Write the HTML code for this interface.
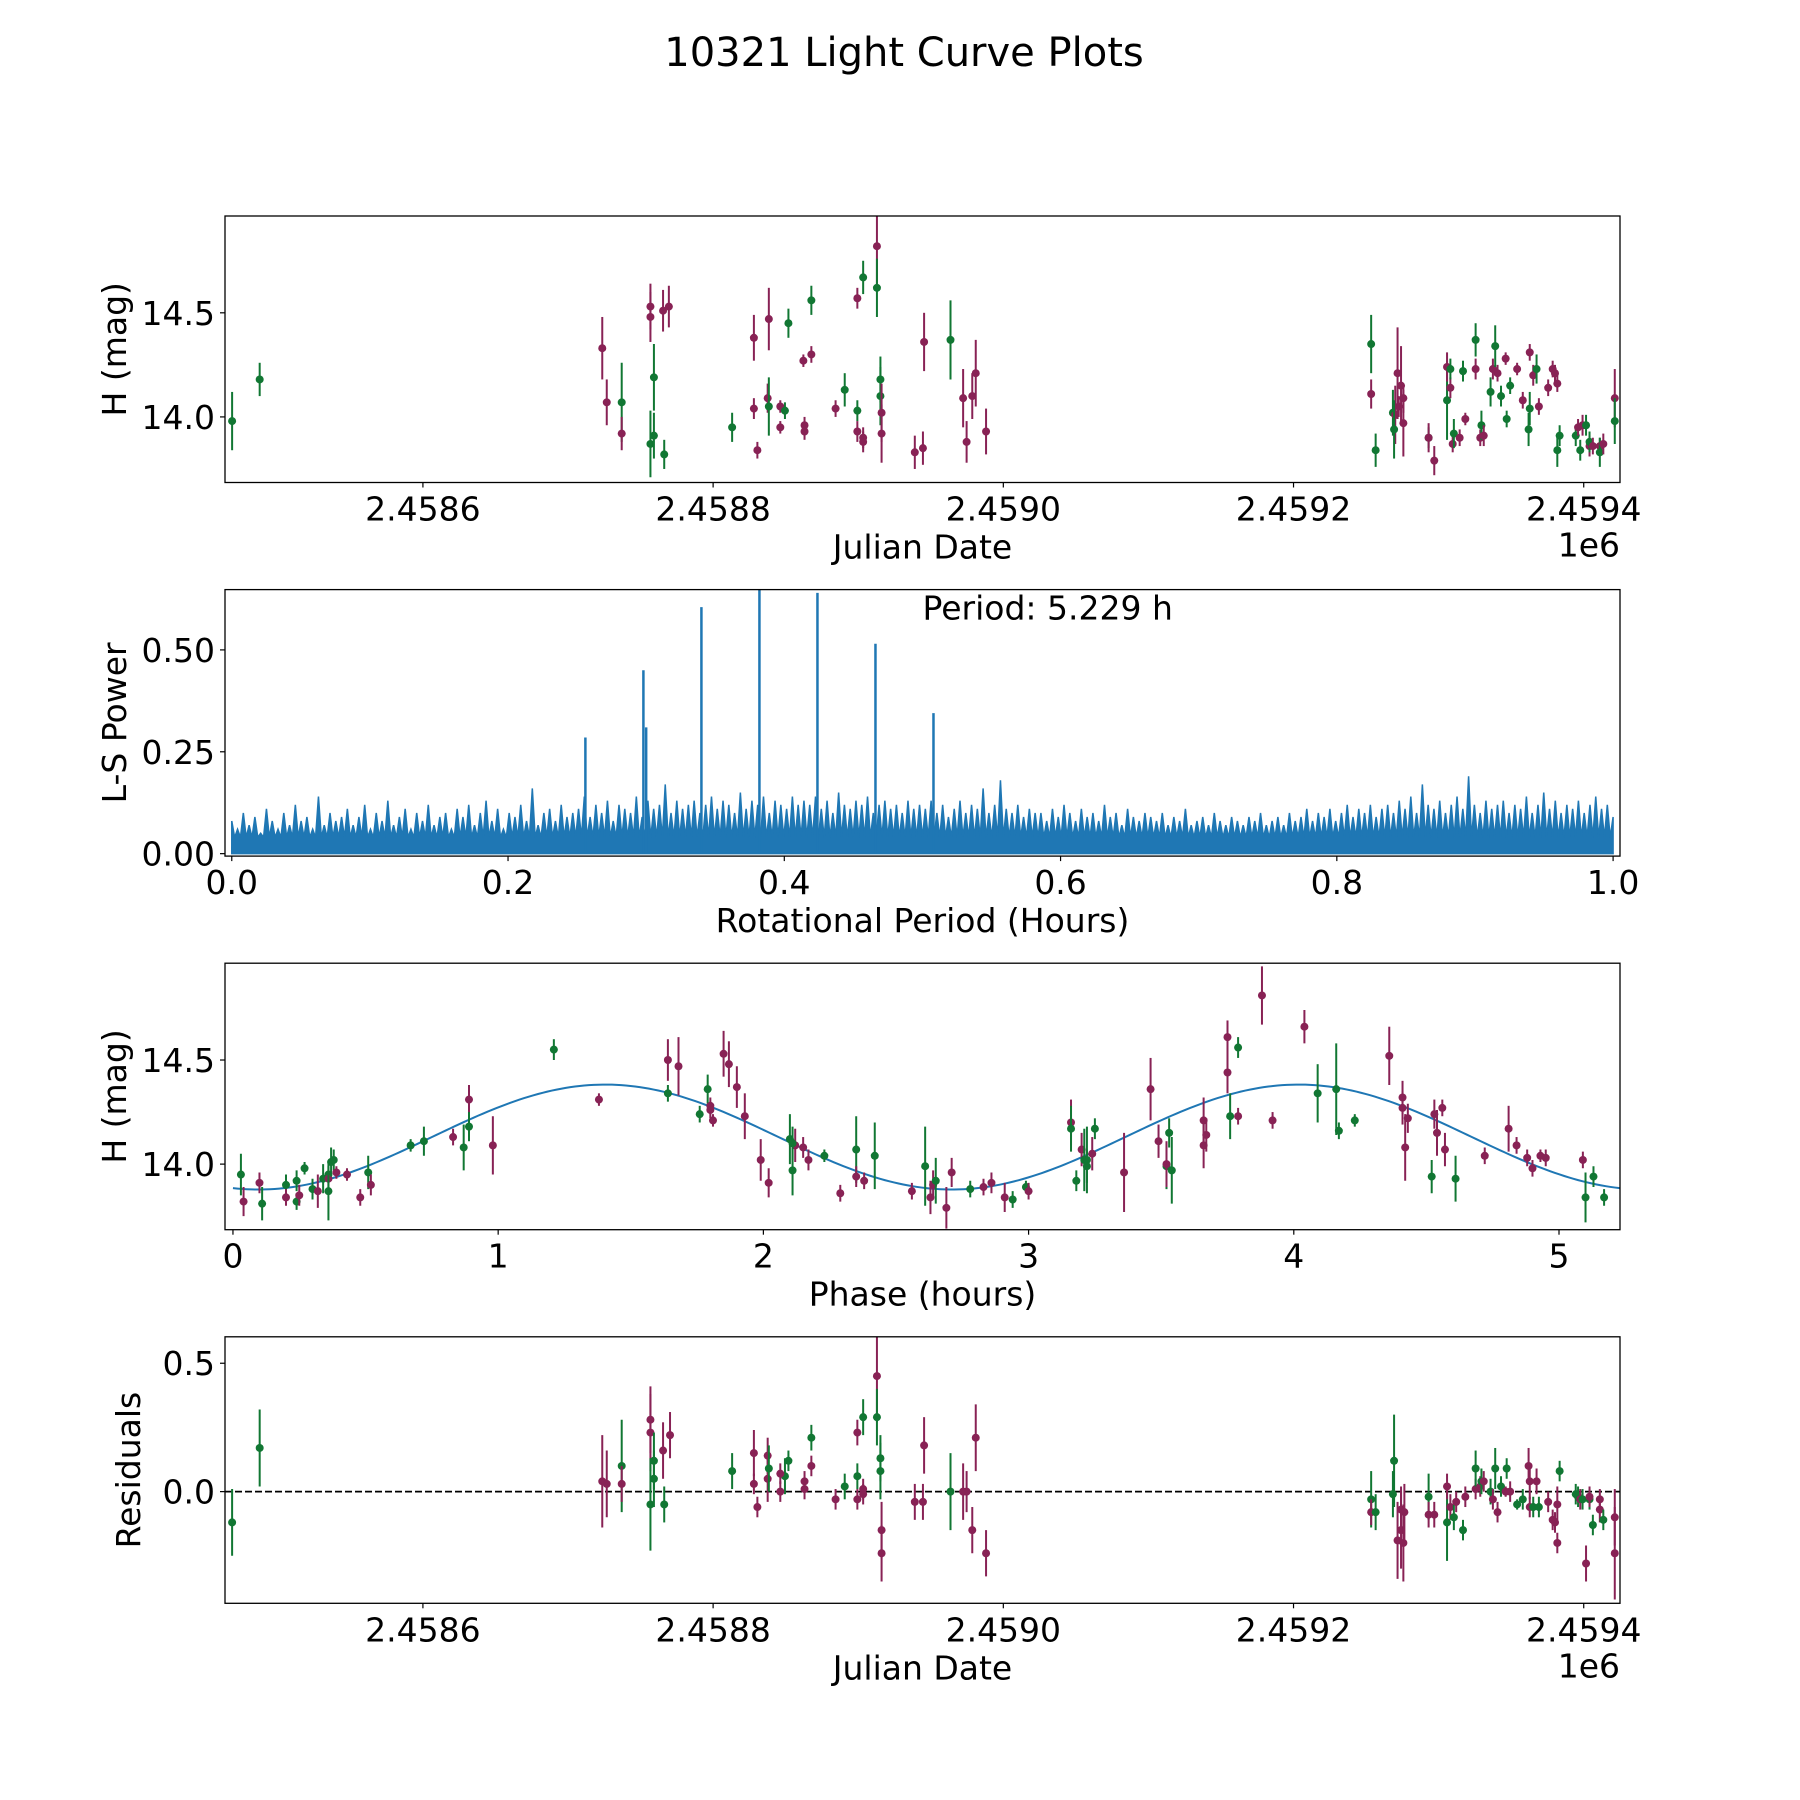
<!DOCTYPE html>
<html><head><meta charset="utf-8">
<style>
html,body{margin:0;padding:0;background:#fff;}
svg{display:block;font-family:"DejaVu Sans","Liberation Sans",sans-serif;}
</style></head>
<body>
<svg id="fig" width="1800" height="1800" viewBox="0 0 1800 1800" xmlns="http://www.w3.org/2000/svg">
<rect width="1800" height="1800" fill="#fff"/>
<text x="904" y="66" font-size="40" text-anchor="middle">10321 Light Curve Plots</text>
</svg>
<script>
// ---------- DATA ----------
// Panel 1: Julian date offsets (days from 2458600), magnitude, error, filter
const jdDays = [-131.5,-112.5,123.6,126.7,137.0,137.0,156.8,156.8,156.8,159.2,159.2,166.3,165.5,169.5,213.1,228.1,228.1,230.5,237.6,238.4,238.4,246.3,246.3,249.5,251.9,262.2,263.0,263.0,267.7,267.7,284.4,290.7,299.4,299.4,299.4,303.4,303.4,303.4,312.9,312.9,315.3,315.3,316.1,316.1,339.0,344.6,345.4,363.6,372.3,374.7,378.6,381.0,388.1,
653.5,653.5,656.6,668.5,670.1,671.7,674.1,672.5,669.3,675.7,675.7,693.1,693.1,697.0,705.8,705.8,708.1,708.1,709.7,710.5,716.8,714.5,718.4,725.5,725.5,728.7,729.5,731.1,735.8,737.4,739.0,740.6,743.0,746.2,746.9,749.3,754.1,758.0,762.0,762.8,762.8,765.2,767.5,769.1,775.5,778.6,780.2,781.8,781.8,783.4,794.5,796.1,797.6,799.2,801.6,804.0,804.0,806.3,811.1,811.1,813.5,821.4,821.4];
const jdMag = [13.98,14.18,14.33,14.07,14.07,13.92,14.53,14.48,13.87,14.19,13.91,13.82,14.51,14.53,13.95,14.38,14.04,13.84,14.09,14.47,14.05,14.05,13.95,14.03,14.45,14.27,13.96,13.93,14.30,14.56,14.04,14.13,14.57,14.03,13.93,14.67,13.90,13.88,14.82,14.62,14.10,14.18,14.02,13.92,13.83,13.85,14.36,14.37,14.09,13.88,14.10,14.21,13.93,
14.35,14.11,13.84,14.02,14.01,14.21,14.15,14.05,13.94,13.97,14.09,13.90,13.90,13.79,14.08,14.24,14.14,14.23,13.87,13.92,14.22,13.90,13.99,14.23,14.37,13.90,13.96,13.91,14.12,14.23,14.34,14.21,14.10,14.28,13.99,14.15,14.23,14.08,13.94,14.04,14.31,14.20,14.23,14.05,14.14,14.23,14.21,14.16,13.84,13.91,13.91,13.95,13.84,13.96,13.96,13.86,13.88,13.86,13.86,13.83,13.87,14.09,13.98];
const jdErr = [0.14,0.08,0.15,0.11,0.19,0.08,0.11,0.12,0.16,0.16,0.11,0.07,0.10,0.10,0.07,0.11,0.05,0.04,0.07,0.15,0.14,0.03,0.03,0.04,0.07,0.03,0.04,0.04,0.04,0.07,0.04,0.08,0.05,0.05,0.05,0.08,0.05,0.05,0.22,0.14,0.14,0.11,0.14,0.14,0.08,0.08,0.14,0.19,0.14,0.10,0.11,0.16,0.11,
0.14,0.07,0.08,0.11,0.14,0.22,0.19,0.05,0.14,0.16,0.07,0.05,0.07,0.07,0.19,0.07,0.05,0.05,0.04,0.07,0.05,0.04,0.03,0.05,0.08,0.04,0.07,0.05,0.07,0.05,0.10,0.04,0.05,0.03,0.04,0.04,0.03,0.04,0.08,0.08,0.04,0.05,0.07,0.04,0.04,0.04,0.04,0.04,0.08,0.05,0.05,0.04,0.05,0.05,0.05,0.05,0.05,0.04,0.04,0.07,0.05,0.14,0.11];
const jdBand = "GGPPGPPPGGGGPPGPPPPPGPPGGPPPPGPGPGPGPPPGGGPPPPPGPPPPPGPGGPPPPGPPGPPGPPGPGGPPPGPGPGPGPGPGGPPGGPPGPPPPPGGGPGPGPGPPGPPG";
// Panel 4: residuals (same epochs)
const resDays = [-131.5,-112.5,123.6,126.7,137.0,137.0,156.8,156.8,156.8,159.2,159.2,166.3,165.5,170.3,213.1,228.1,230.5,228.1,237.6,237.6,238.4,249.5,246.3,246.3,251.9,263.0,263.0,267.7,267.7,284.4,290.7,299.4,299.4,299.4,303.4,303.4,303.4,312.9,312.9,315.3,315.3,316.1,316.1,339.0,344.6,345.4,363.6,372.3,374.7,378.6,381.0,388.1,
653.5,653.5,656.6,668.5,669.3,671.7,674.1,675.7,674.1,676.4,693.1,693.1,697.0,705.8,705.8,708.1,710.5,712.1,716.8,718.4,725.5,725.5,728.7,729.5,731.1,735.8,737.4,739.0,740.6,743.0,746.2,746.9,749.3,754.1,758.0,762.0,762.8,762.8,765.2,767.5,769.1,775.5,778.6,780.2,781.8,781.8,783.4,794.5,796.1,797.6,799.2,801.6,804.0,804.0,806.3,811.1,811.1,813.5,821.4,821.4];
const resVal = [-0.12,0.17,0.04,0.03,0.10,0.03,0.28,0.23,-0.05,0.12,0.05,-0.05,0.16,0.22,0.08,0.15,-0.06,0.03,0.14,0.05,0.09,0.06,0.00,0.07,0.12,0.04,0.01,0.10,0.21,-0.03,0.02,0.23,0.06,-0.03,0.29,-0.01,0.01,0.45,0.29,0.08,0.13,-0.15,-0.24,-0.04,-0.04,0.18,0.00,0.00,0.00,-0.15,0.21,-0.24,
-0.03,-0.08,-0.08,-0.01,0.12,-0.19,-0.15,-0.20,-0.07,-0.08,-0.02,-0.09,-0.09,-0.12,0.02,-0.06,-0.10,-0.04,-0.15,-0.02,0.01,0.09,0.02,0.04,0.04,0.00,-0.03,0.09,-0.08,0.02,0.00,0.09,0.00,-0.05,-0.03,0.10,0.04,-0.06,-0.06,0.04,-0.06,-0.04,-0.11,-0.12,-0.20,-0.05,0.08,-0.01,-0.02,-0.03,-0.03,-0.28,-0.03,-0.02,-0.13,-0.03,-0.07,-0.11,-0.10,-0.24];
const resErr = [0.13,0.15,0.18,0.13,0.18,0.07,0.13,0.15,0.18,0.11,0.11,0.07,0.11,0.09,0.07,0.09,0.04,0.04,0.07,0.09,0.09,0.07,0.04,0.04,0.04,0.04,0.04,0.04,0.05,0.04,0.05,0.05,0.05,0.04,0.07,0.04,0.04,0.18,0.11,0.11,0.09,0.11,0.11,0.07,0.07,0.11,0.15,0.11,0.08,0.09,0.13,0.09,
0.11,0.05,0.07,0.09,0.18,0.15,0.15,0.15,0.09,0.11,0.09,0.05,0.05,0.15,0.05,0.05,0.05,0.04,0.04,0.04,0.04,0.07,0.04,0.05,0.04,0.05,0.04,0.08,0.04,0.04,0.02,0.04,0.04,0.02,0.04,0.07,0.07,0.04,0.04,0.05,0.04,0.04,0.04,0.04,0.04,0.07,0.04,0.04,0.04,0.04,0.04,0.07,0.04,0.04,0.04,0.04,0.05,0.04,0.11,0.18];
const resBand = "GGPPGPPPGGGGPPGPPPPPGGPPGPPPGPGPGPGPPPGGGPPPPPGPPPPPGPGGGPPPPPGPPGPPGPGPPGPGPGPGPGPGPGGPPPGPGPPPPPGGGPGPGPGPPGPPG";
// Panel 3: phase-folded
const phHours = [0.03,0.04,0.10,0.11,0.20,0.20,0.24,0.24,0.25,0.27,0.30,0.32,0.34,0.36,0.36,0.36,0.37,0.38,0.39,0.43,0.48,0.51,0.52,0.67,0.72,0.83,0.87,0.89,0.89,0.98,1.21,1.38,1.64,1.68,1.64,1.76,1.79,1.80,1.81,1.80,1.85,1.87,1.90,1.93,1.99,2.02,2.10,2.11,2.12,2.11,2.15,2.17,2.23,2.29,2.35,2.35,2.38,2.42,2.56,2.61,2.63,2.64,2.65,2.69,2.71,2.78,2.83,2.86,2.91,2.94,2.99,3.00,3.16,3.16,3.18,3.20,3.21,3.22,3.22,3.24,3.25,3.36,3.46,3.49,3.52,3.52,3.54,3.53,3.66,3.66,3.67,3.75,3.75,3.76,3.79,3.79,3.88,3.92,4.04,4.09,4.16,4.17,4.23,4.36,4.41,4.41,4.43,4.42,4.52,4.53,4.54,4.56,4.57,4.61,4.72,4.81,4.84,4.88,4.90,4.93,4.95,5.09,5.10,5.13,5.17];
const phMag = [13.95,13.82,13.91,13.81,13.90,13.84,13.92,13.82,13.85,13.98,13.88,13.87,13.93,13.95,13.93,13.87,14.01,14.02,13.96,13.95,13.84,13.96,13.90,14.09,14.11,14.13,14.08,14.31,14.18,14.09,14.55,14.31,14.50,14.47,14.34,14.24,14.36,14.28,14.21,14.26,14.53,14.48,14.37,14.23,14.02,13.91,14.12,13.97,14.09,14.10,14.08,14.02,14.04,13.86,14.07,13.94,13.92,14.04,13.87,13.99,13.84,13.90,13.92,13.79,13.96,13.88,13.89,13.91,13.84,13.83,13.89,13.87,14.20,14.17,13.92,14.07,14.02,14.02,13.99,14.05,14.17,13.96,14.36,14.11,13.99,14.00,13.97,14.15,14.21,14.09,14.14,14.61,14.44,14.23,14.56,14.23,14.81,14.21,14.66,14.34,14.36,14.16,14.21,14.52,14.32,14.27,14.22,14.08,13.94,14.24,14.15,14.27,14.07,13.93,14.04,14.17,14.09,14.03,13.98,14.04,14.03,14.02,13.84,13.94,13.84];
const phErr = [0.10,0.07,0.05,0.08,0.05,0.04,0.05,0.04,0.05,0.03,0.05,0.08,0.07,0.04,0.04,0.14,0.07,0.05,0.03,0.03,0.04,0.08,0.05,0.03,0.07,0.04,0.11,0.07,0.07,0.14,0.05,0.03,0.10,0.14,0.04,0.04,0.07,0.04,0.03,0.04,0.11,0.11,0.10,0.11,0.10,0.07,0.12,0.12,0.08,0.08,0.05,0.05,0.03,0.04,0.16,0.05,0.04,0.16,0.04,0.19,0.08,0.07,0.11,0.10,0.07,0.04,0.04,0.05,0.07,0.04,0.03,0.04,0.11,0.11,0.05,0.08,0.15,0.16,0.08,0.08,0.05,0.19,0.15,0.08,0.11,0.11,0.16,0.07,0.11,0.11,0.08,0.08,0.10,0.11,0.05,0.04,0.14,0.04,0.08,0.14,0.22,0.04,0.03,0.14,0.08,0.08,0.07,0.16,0.08,0.07,0.11,0.04,0.08,0.11,0.04,0.11,0.04,0.04,0.04,0.03,0.04,0.04,0.12,0.05,0.04];
const phBand = "GPPGGPGGPGGPGGPGGGPPPGPGGPGPGPGPPPGGGPPPPPPPPPGGPGPPGPGPPGPGPPGPPGPPPGGPPGGPGGGPGPPPGPGGPPPPPGGPPPPGGGGPPPPPGPPPPGPPPPPPPPGGGPGPGPGP";
// Sinusoidal fit parameters: [mean mag, amplitude, phase offset (h), half-period (h)]
const fitParams = [14.13, 0.252, 0.75, 2.6145];
const fitRange = [0, 5.229];
// Panel 2: Lomb-Scargle periodogram
const lsNoise = [
.08,.06,.10,.07,.09,.05,.11,.08,.06,.10,.07,.12,.08,.09,.06,.14,.07,.10,.08,.09,
.11,.07,.09,.12,.06,.10,.08,.13,.07,.09,.11,.06,.10,.08,.12,.07,.09,.10,.06,.11,
.09,.12,.07,.10,.13,.08,.11,.06,.10,.09,.12,.08,.16,.07,.10,.11,.08,.12,.09,.10,
.11,.14,.09,.12,.10,.13,.08,.12,.11,.10,.14,.09,.13,.11,.12,.17,.10,.13,.11,.12,
.13,.10,.12,.14,.11,.13,.12,.10,.15,.11,.13,.12,.14,.10,.13,.12,.11,.14,.12,.13,
.12,.14,.11,.13,.10,.15,.12,.11,.13,.12,.14,.10,.12,.13,.11,.12,.10,.13,.11,.12,
.11,.13,.10,.12,.09,.11,.13,.10,.12,.11,.16,.10,.12,.18,.11,.10,.12,.09,.11,.10,
.10,.08,.11,.09,.12,.10,.08,.11,.09,.10,.08,.12,.09,.10,.07,.11,.09,.08,.10,.09,
.08,.10,.07,.09,.08,.11,.07,.08,.09,.07,.10,.08,.07,.09,.08,.07,.09,.08,.10,.07,
.08,.09,.07,.10,.08,.09,.11,.08,.10,.09,.11,.08,.10,.12,.09,.11,.10,.12,.09,.11,
.12,.10,.13,.11,.14,.10,.17,.12,.11,.13,.10,.12,.14,.11,.19,.12,.10,.13,.11,.12,
.13,.10,.12,.11,.14,.10,.12,.15,.11,.13,.10,.12,.11,.13,.10,.12,.14,.11,.12,.09];
const lsTrough = [0.04];
const lsPeakX = [0.256,0.298,0.300,0.340,0.382,0.424,0.466,0.508];
const lsPeakY = [0.285,0.45,0.31,0.605,0.70,0.64,0.515,0.345];
const periodHours = ["5.229"];
const jdTickVals = [0,200,400,600,800];
const jdTickLabels = ["2.4586","2.4588","2.4590","2.4592","2.4594"];
const magTicks = [14.0,14.5];
const magTickLabels = ["14.0","14.5"];
const lsXTicks = [0,0.2,0.4,0.6,0.8,1.0];
const lsXTickLabels = ["0.0","0.2","0.4","0.6","0.8","1.0"];
const lsYTicks = [0,0.25,0.5];
const lsYTickLabels = ["0.00","0.25","0.50"];
const phTicks = [0,1,2,3,4,5];
const phTickLabels = ["0","1","2","3","4","5"];
const resTicks = [0,0.5];
const resTickLabels = ["0.0","0.5"];

// ---------- DRAWING ----------
const NS = "http://www.w3.org/2000/svg";
const fig = document.getElementById('fig');
const GREEN = "#117733", PURPLE = "#882255", BLUE = "#1f77b4";
const L = 225, R = 1620, H = 266.5;
const tops = [216, 589.6, 963.2, 1336.8];
function mk(tag, attrs, parent){
  const e = document.createElementNS(NS, tag);
  for (const k in attrs) e.setAttribute(k, attrs[k]);
  (parent||fig).appendChild(e);
  return e;
}
function scale(d0,d1,p0,p1){ return v => p0 + (v-d0)*(p1-p0)/(d1-d0); }

function axes(idx, xlim, ylim, name){
  const top = tops[idx], bot = top + H;
  const g = mk('g', {});
  
  
  const clipId = 'clip' + idx;
  const cp = mk('clipPath', {id: clipId}, g);
  mk('rect', {x:L, y:top, width:R-L, height:H}, cp);
  const plot = mk('g', {'clip-path': 'url(#'+clipId+')'}, g);
  
  
  return {g, plot, top, bot, x: scale(xlim[0],xlim[1],L,R), y: scale(ylim[0],ylim[1],bot,top)};
}
function frame(ax, name){
  const r = mk('rect', {x:L, y:ax.top, width:R-L, height:H, fill:'none', stroke:'#000', 'stroke-width':1.3}, ax.g);
  
  
}
function xticks(ax, vals, labels, name){
  vals.forEach((v,i)=>{
    const px = ax.x(v);
    const t = mk('line', {x1:px, x2:px, y1:ax.bot, y2:ax.bot+5, stroke:'#000', 'stroke-width':1.2}, ax.g);
    
    
    const tx = mk('text', {x:px, y:ax.bot+38, 'font-size':33, 'text-anchor':'middle'}, ax.g);
    tx.textContent = labels[i];
    
    
  });
}
function yticks(ax, vals, labels, name){
  vals.forEach((v,i)=>{
    const py = ax.y(v);
    const t = mk('line', {x1:L-5, x2:L, y1:py, y2:py, stroke:'#000', 'stroke-width':1.2}, ax.g);
    
    
    const tx = mk('text', {x:L-10, y:py+12, 'font-size':33, 'text-anchor':'end'}, ax.g);
    tx.textContent = labels[i];
    
    
  });
}
function labels(ax, xl, yl, ylx, name, offset){
  const a = mk('text', {x:(L+R)/2, y:ax.bot+76, 'font-size':33, 'text-anchor':'middle'}, ax.g);
  a.textContent = xl;
  
  
  const cy = ax.top + H/2;
  const b = mk('text', {x:ylx, y:cy, 'font-size':33, 'text-anchor':'middle', transform:'rotate(-90 '+ylx+' '+cy+')'}, ax.g);
  b.textContent = yl;
  
  
  if (offset){
    const o = mk('text', {x:R, y:ax.bot+74, 'font-size':33, 'text-anchor':'end'}, ax.g);
    o.textContent = offset;
    
    
  }
}
function errpoints(ax, xs, ys, es, bands, name){
  xs.forEach((xv,i)=>{
    const c = bands[i] === 'G' ? GREEN : PURPLE;
    const px = ax.x(xv), py = ax.y(ys[i]);
    const l = mk('line', {x1:px, x2:px, y1:ax.y(ys[i]-es[i]), y2:ax.y(ys[i]+es[i]), stroke:c, 'stroke-width':2}, ax.plot);
    
    
    const d = mk('circle', {cx:px, cy:py, r:4, fill:c}, ax.plot);
    
    
  });
}

// Panel 1
const JDLIM = [-136.4, 825];
const MAGLIM = [13.685, 14.965];
const a1 = axes(0, JDLIM, MAGLIM, 'light-curve-panel');
errpoints(a1, jdDays, jdMag, jdErr, jdBand, 'light-curve');
frame(a1, 'light-curve');
xticks(a1, jdTickVals, jdTickLabels, 'light-curve');
yticks(a1, magTicks, magTickLabels, 'light-curve');
labels(a1, 'Julian Date', 'H (mag)', 126, 'light-curve', '1e6');

// Panel 2
const a2 = axes(1, [-0.0049,1.005], [-0.006,0.648], 'periodogram-panel');
{
  const n = lsNoise.length;
  let d = 'M' + a2.x(0) + ' ' + a2.y(0);
  for (let i=0;i<n;i++){
    const xv = i/(n-1);
    const xm = (i+0.5)/(n-1);
    d += ' L' + a2.x(xv).toFixed(2) + ' ' + a2.y(lsNoise[i]).toFixed(2);
    if (i<n-1) d += ' L' + a2.x(xm).toFixed(2) + ' ' + a2.y(lsTrough[0]).toFixed(2);
  }
  d += ' L' + a2.x(1) + ' ' + a2.y(0) + ' Z';
  const p = mk('path', {d, fill:BLUE, stroke:BLUE, 'stroke-width':1.5, 'stroke-linejoin':'miter'}, a2.plot);
  
  
  lsPeakX.forEach((xv,i)=>{
    const l = mk('line', {x1:a2.x(xv), x2:a2.x(xv), y1:a2.y(0), y2:a2.y(lsPeakY[i]), stroke:BLUE, 'stroke-width':2.5}, a2.plot);
    
    
  });
}
frame(a2, 'periodogram');
xticks(a2, lsXTicks, lsXTickLabels, 'periodogram');
yticks(a2, lsYTicks, lsYTickLabels, 'periodogram');
labels(a2, 'Rotational Period (Hours)', 'L-S Power', 126, 'periodogram');
{
  const t = mk('text', {x:(L+R)/2, y:a2.top + 30, 'font-size':33}, a2.g);
  t.textContent = 'Period: ' + periodHours[0] + ' h';
  
  
}

// Panel 3
const a3 = axes(2, [-0.03,5.23], MAGLIM, 'phase-panel');
{
  let d = '';
  const steps = 300;
  for (let i=0;i<=steps;i++){
    const ph = fitRange[0] + (fitRange[1]-fitRange[0])*i/steps;
    const m = fitParams[0] + fitParams[1]*Math.sin(2*Math.PI*(ph-fitParams[2])/fitParams[3]);
    d += (i?' L':'M') + a3.x(ph).toFixed(2) + ' ' + a3.y(m).toFixed(2);
  }
  const p = mk('path', {d, fill:'none', stroke:BLUE, 'stroke-width':2}, a3.plot);
  
  
}
errpoints(a3, phHours, phMag, phErr, phBand, 'phase');
frame(a3, 'phase');
xticks(a3, phTicks, phTickLabels, 'phase');
yticks(a3, magTicks, magTickLabels, 'phase');
labels(a3, 'Phase (hours)', 'H (mag)', 126, 'phase');

// Panel 4
const a4 = axes(3, JDLIM, [-0.435,0.603], 'residuals-panel');
{
  const l = mk('line', {x1:L, x2:R, y1:a4.y(0), y2:a4.y(0), stroke:'#000', 'stroke-width':1.8, 'stroke-dasharray':'7,3'}, a4.plot);
  
  
}
errpoints(a4, resDays, resVal, resErr, resBand, 'residuals');
frame(a4, 'residuals');
xticks(a4, jdTickVals, jdTickLabels, 'residuals');
yticks(a4, resTicks, resTickLabels, 'residuals');
labels(a4, 'Julian Date', 'Residuals', 140, 'residuals', '1e6');
</script>
</body></html>
